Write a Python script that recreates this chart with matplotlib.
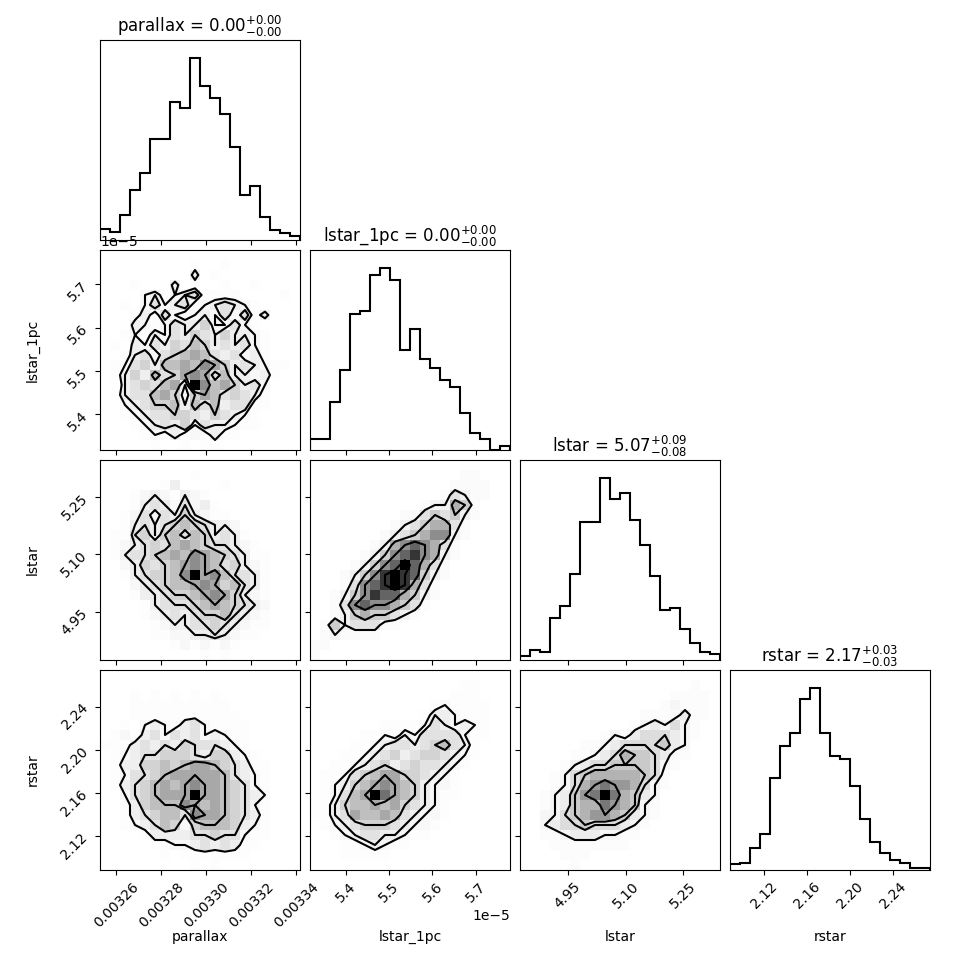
import numpy as np
import matplotlib
matplotlib.use("Agg")
import matplotlib.pyplot as plt
from matplotlib.colors import LinearSegmentedColormap
from matplotlib.ticker import MaxNLocator, NullLocator, ScalarFormatter

labels = ["parallax", "lstar_1pc", "lstar", "rstar"]
titles = [r"parallax = $0.00_{-0.00}^{+0.00}$",
          r"lstar_1pc = $0.00_{-0.00}^{+0.00}$",
          r"lstar = $5.07_{-0.08}^{+0.09}$",
          r"rstar = $2.17_{-0.03}^{+0.03}$"]
ranges = [(0.0032529, 0.0033418), (5.3176e-5, 5.779e-5), (4.826, 5.345), (2.088, 2.274)]

# 1D histogram counts (20 bins each)
hist_parallax = [34, 23, 74, 149, 202, 302, 302, 413, 395, 545, 463, 427, 377, 280, 135, 162, 68, 30, 20, 12]
hist_lstar_1pc = [32, 32, 143, 240, 408, 417, 524, 545, 510, 300, 362, 273, 245, 210, 188, 110, 50, 33, 0, 12]
hist_lstar = [12, 30, 24, 125, 160, 255, 409, 409, 539, 476, 494, 414, 340, 249, 149, 154, 92, 50, 24, 18]
hist_rstar = [18, 21, 64, 106, 272, 366, 404, 505, 537, 404, 336, 328, 247, 150, 82, 50, 31, 22, 6, 6]

# 2D histogram counts (hex digits), rows from top (high y) to bottom, columns left to right
dens_parallax_lstar1pc = [
    "00000000000000000000",
    "00000000010010000000",
    "00000000030100000000",
    "00010003010010010000",
    "00002312341111000010",
    "00102423412343210000",
    "00013142123242413000",
    "00032124335224210000",
    "00121324354353321000",
    "01032435465343421000",
    "00134245676434231000",
    "01245366768753432110",
    "01353645787463323100",
    "003454673c8675342000",
    "01344675257645431000",
    "00234556364634411000",
    "00123445543543210000",
    "00012343524332110000",
    "00001213121311000000",
    "00000100101100000000",
]
dens_parallax_lstar = [
    "00000000000000000000",
    "00000000010000000000",
    "00000013000010000000",
    "00012321321000000000",
    "00013432423100000000",
    "00124243532110000000",
    "00134345654332000000",
    "01145356465343100000",
    "01234546765443210000",
    "01344567687654311000",
    "00235456787645321000",
    "001345568c7864431000",
    "00023456678756431000",
    "00013345567875321000",
    "00001344456765432000",
    "00001234345564321000",
    "00000123344543211000",
    "00000112233432110000",
    "00000001212121000000",
    "00000000001010000000",
]
dens_lstar1pc_lstar = [
    "00000000000000000000",
    "00000000000000011000",
    "00000000000000111100",
    "00000000000001321100",
    "00000000000122541000",
    "00000000011343421000",
    "00000000123455310000",
    "00000001234566210000",
    "00000012567653100000",
    "00000124678652100000",
    "00001246797531000000",
    "00012468987421000000",
    "00013678985310000000",
    "00124687754210000000",
    "00136766543100000000",
    "00124544321000000000",
    "01423331100000000000",
    "01211110000000000000",
    "11000000000000000000",
    "10000000000000000000",
]
dens_parallax_rstar = [
    "00000000000000000000",
    "00000000000000000000",
    "00010101010100000000",
    "00011111111110000000",
    "00011111111111000000",
    "00102321342111100000",
    "01203424342321100000",
    "11134343544432100000",
    "01234455543553210000",
    "01335565677654311000",
    "01244567777764321000",
    "01345676787765421000",
    "002456777c7765432000",
    "00135666876765421000",
    "00134566487765431000",
    "00123465256665321000",
    "00001333344544211000",
    "00000112234343110000",
    "00000010111111100000",
    "00000000010100000000",
]
dens_lstar1pc_rstar = [
    "00000000000000000000",
    "00000000000000011000",
    "00000000000000111000",
    "00000000000012111100",
    "00000000000133211100",
    "00000001111243232100",
    "00000112132444421100",
    "00001123443456431000",
    "00011234534554321000",
    "00112345345443210000",
    "01124567755432100000",
    "01235678765322100000",
    "012467c9765321100000",
    "11356676754321000000",
    "11347667643221000000",
    "01234555432210000000",
    "00123443321100000000",
    "00011232110000000000",
    "00011111000000000000",
    "00000000000000000000",
]
dens_lstar_rstar = [
    "00000000000000000000",
    "00000000000000000100",
    "00000000000000011110",
    "00000000000000121110",
    "00000000000011113110",
    "00000000000123242100",
    "00000000121344432100",
    "00000011234444532000",
    "00000112346554311000",
    "00001234455554210000",
    "00012456666654100000",
    "00012467877642100000",
    "00123578b86532000000",
    "00123566876521000000",
    "00224567765321000000",
    "00234454443210000000",
    "00112333221100000000",
    "00011111111000000000",
    "00001110000000000000",
    "00000100000000000000",
]

hists = [hist_parallax, hist_lstar_1pc, hist_lstar, hist_rstar]
dens = {(1, 0): dens_parallax_lstar1pc,
        (2, 0): dens_parallax_lstar, (2, 1): dens_lstar1pc_lstar,
        (3, 0): dens_parallax_rstar, (3, 1): dens_lstar1pc_rstar, (3, 2): dens_lstar_rstar}

levels = 1.0 - np.exp(-0.5 * np.arange(0.5, 2.1, 0.5) ** 2)
K = len(labels)
nbins = 20

factor = 2.0
lbdim = 0.5 * factor
trdim = 0.2 * factor
whspace = 0.05
plotdim = factor * K + factor * (K - 1.0) * whspace
dim = lbdim + plotdim + trdim
fig, axes = plt.subplots(K, K, figsize=(dim, dim), dpi=100)
lb = lbdim / dim
tr = (lbdim + plotdim) / dim
fig.subplots_adjust(left=lb, bottom=lb, right=tr, top=tr, wspace=whspace, hspace=whspace)

density_cmap = LinearSegmentedColormap.from_list("density_cmap", ["k", (1, 1, 1, 0)])
white_cmap = LinearSegmentedColormap.from_list("white_cmap", [(1, 1, 1), (1, 1, 1)], N=2)


def hist2d(ax, grid, xr, yr):
    assert all(len(row) == nbins for row in grid) and len(grid) == nbins
    H = np.array([[int(c, 16) for c in row] for row in grid], dtype=float)[::-1].T
    X = np.linspace(xr[0], xr[1], nbins + 1)
    Y = np.linspace(yr[0], yr[1], nbins + 1)

    # contour levels enclosing the given mass fractions
    Hflat = H.flatten()
    inds = np.argsort(Hflat)[::-1]
    Hflat = Hflat[inds]
    sm = np.cumsum(Hflat)
    sm /= sm[-1]
    V = np.empty(len(levels))
    for i, v0 in enumerate(levels):
        try:
            V[i] = Hflat[sm <= v0][-1]
        except IndexError:
            V[i] = Hflat[0]
    V.sort()
    m = np.diff(V) == 0
    while np.any(m):
        V[np.where(m)[0][0]] *= 1.0 - 1e-4
        m = np.diff(V) == 0
    V.sort()

    X1, Y1 = 0.5 * (X[1:] + X[:-1]), 0.5 * (Y[1:] + Y[:-1])
    H2 = H.min() + np.zeros((H.shape[0] + 4, H.shape[1] + 4))
    H2[2:-2, 2:-2] = H
    H2[2:-2, 1] = H[:, 0]
    H2[2:-2, -2] = H[:, -1]
    H2[1, 2:-2] = H[0]
    H2[-2, 2:-2] = H[-1]
    H2[1, 1] = H[0, 0]
    H2[1, -2] = H[0, -1]
    H2[-2, 1] = H[-1, 0]
    H2[-2, -2] = H[-1, -1]
    X2 = np.concatenate([X1[0] + np.array([-2, -1]) * np.diff(X1[:2]), X1,
                         X1[-1] + np.array([1, 2]) * np.diff(X1[-2:])])
    Y2 = np.concatenate([Y1[0] + np.array([-2, -1]) * np.diff(Y1[:2]), Y1,
                         Y1[-1] + np.array([1, 2]) * np.diff(Y1[-2:])])

    ax.contourf(X2, Y2, H2.T, [V.min(), H.max()], cmap=white_cmap, antialiased=False)
    ax.pcolor(X, Y, H.max() - H.T, cmap=density_cmap)
    ax.contour(X2, Y2, H2.T, V, colors="k", linewidths=1.5)
    ax.set_xlim(xr)
    ax.set_ylim(yr)


for i in range(K):
    for j in range(K):
        ax = axes[i, j]
        if j > i:
            ax.set_frame_on(False)
            ax.set_xticks([])
            ax.set_yticks([])
            continue
        if i == j:
            edges = np.linspace(ranges[i][0], ranges[i][1], nbins + 1)
            ax.stairs(hists[i], edges, color="k", linewidth=1.5)
            ax.set_xlim(ranges[i])
            ax.set_ylim(0, 1.1 * max(hists[i]))
            ax.set_title(titles[i])
            ax.yaxis.set_major_locator(NullLocator())
        else:
            hist2d(ax, dens[(i, j)], ranges[j], ranges[i])
            ax.yaxis.set_major_locator(MaxNLocator(5, prune="lower"))
            if j > 0:
                ax.set_yticklabels([])
            else:
                ax.set_ylabel(labels[i])
                ax.yaxis.set_label_coords(-0.3, 0.5)
                ax.yaxis.set_major_formatter(ScalarFormatter())

        ax.xaxis.set_major_locator(MaxNLocator(5, prune="lower"))
        if i < K - 1:
            ax.set_xticklabels([])
        else:
            ax.xaxis.set_major_formatter(ScalarFormatter())
            ax.set_xlabel(labels[j])
            ax.xaxis.set_label_coords(0.5, -0.3)

for i in range(K):
    for j in range(i + 1):
        ax = axes[i, j]
        if i == K - 1:
            plt.setp(ax.get_xticklabels(), rotation=45)
        if j == 0 and i > 0:
            plt.setp(ax.get_yticklabels(), rotation=45)

fig.savefig("out.png", dpi=100)
